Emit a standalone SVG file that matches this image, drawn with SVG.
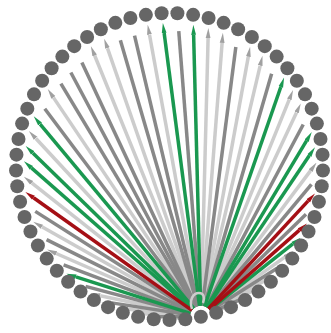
<svg xmlns="http://www.w3.org/2000/svg" width="331" height="333" viewBox="0 0 331 333">
<defs>
<style>
.n{fill:#666666}
.l{stroke-width:3.5;fill:none}
.L{stroke:#cccccc;marker-end:url(#mL)}
.D{stroke:#888888}
.G{stroke:#1a9850;marker-end:url(#mG)}
.R{stroke:#a50f15;marker-end:url(#mR)}
.loop{stroke:#cccccc;stroke-width:2.5;fill:none}
</style>
<marker id="mL" markerUnits="userSpaceOnUse" markerWidth="10" markerHeight="6" refX="0" refY="3" orient="auto"><path d="M0,0.6 L10,3 L0,5.4z" fill="#a0a0a0"/></marker>
<marker id="mG" markerUnits="userSpaceOnUse" markerWidth="10" markerHeight="6" refX="0" refY="3" orient="auto"><path d="M0,0.6 L10,3 L0,5.4z" fill="#1a9850"/></marker>
<marker id="mR" markerUnits="userSpaceOnUse" markerWidth="10" markerHeight="6" refX="0" refY="3" orient="auto"><path d="M0,0.6 L10,3 L0,5.4z" fill="#a50f15"/></marker>
</defs>
<rect width="331" height="333" fill="#ffffff"/>
<g id="connectors">
<g transform="translate(200.9 316.75)">
<line class="l L" x1="11" y1="0" x2="278.79" y2="0" transform="rotate(-88.52)"/>
<line class="l L" x1="11" y1="0" x2="274.76" y2="0" transform="rotate(-85.57)"/>
<line class="l L" x1="11" y1="0" x2="264.38" y2="0" transform="rotate(-79.67)"/>
<line class="l L" x1="11" y1="0" x2="258.06" y2="0" transform="rotate(-76.72)"/>
<line class="l L" x1="11" y1="0" x2="234.69" y2="0" transform="rotate(-67.87)"/>
<line class="l L" x1="11" y1="0" x2="225.58" y2="0" transform="rotate(-64.92)"/>
<line class="l L" x1="11" y1="0" x2="182.73" y2="0" transform="rotate(-53.11)"/>
<line class="l L" x1="11" y1="0" x2="102.95" y2="0" transform="rotate(-35.41)"/>
<line class="l L" x1="11" y1="0" x2="73.36" y2="0" transform="rotate(-29.51)"/>
<line class="l L" x1="11" y1="0" x2="58.18" y2="0" transform="rotate(-26.56)"/>
<line class="l L" x1="11" y1="0" x2="27.24" y2="0" transform="rotate(-20.66)"/>
<line class="l L" x1="10" y1="0" x2="11.57" y2="0" transform="rotate(-17.70)"/>
<line class="l L" x1="10" y1="0" x2="11.57" y2="0" transform="rotate(174.10)"/>
<line class="l L" x1="11" y1="0" x2="27.24" y2="0" transform="rotate(177.05)"/>
<line class="l L" x1="11" y1="0" x2="58.18" y2="0" transform="rotate(182.95)"/>
<line class="l L" x1="11" y1="0" x2="73.36" y2="0" transform="rotate(185.90)"/>
<line class="l L" x1="11" y1="0" x2="102.95" y2="0" transform="rotate(191.80)"/>
<line class="l L" x1="11" y1="0" x2="157.90" y2="0" transform="rotate(203.61)"/>
<line class="l L" x1="11" y1="0" x2="182.73" y2="0" transform="rotate(209.51)"/>
<line class="l L" x1="11" y1="0" x2="215.78" y2="0" transform="rotate(218.36)"/>
<line class="l L" x1="11" y1="0" x2="243.21" y2="0" transform="rotate(227.21)"/>
<line class="l L" x1="11" y1="0" x2="264.38" y2="0" transform="rotate(236.07)"/>
<line class="l L" x1="11" y1="0" x2="282.03" y2="0" transform="rotate(247.87)"/>
<line class="l L" x1="11" y1="0" x2="284.46" y2="0" transform="rotate(250.82)"/>
<line class="l L" x1="11" y1="0" x2="286.90" y2="0" transform="rotate(259.67)"/>
<line class="l D" x1="11" y1="0" x2="286.46" y2="0" transform="rotate(-94.43)"/>
<line class="l D" x1="11" y1="0" x2="271.97" y2="0" transform="rotate(-82.62)"/>
<line class="l D" x1="11" y1="0" x2="253.00" y2="0" transform="rotate(-73.77)"/>
<line class="l D" x1="11" y1="0" x2="217.78" y2="0" transform="rotate(-61.97)"/>
<line class="l D" x1="11" y1="0" x2="172.52" y2="0" transform="rotate(-50.16)"/>
<line class="l D" x1="11" y1="0" x2="146.75" y2="0" transform="rotate(-44.26)"/>
<line class="l D" x1="11" y1="0" x2="90.30" y2="0" transform="rotate(-32.46)"/>
<line class="l D" x1="11" y1="0" x2="44.79" y2="0" transform="rotate(-23.61)"/>
<line class="l D" x1="11" y1="0" x2="44.79" y2="0" transform="rotate(180)"/>
<line class="l D" x1="11" y1="0" x2="90.30" y2="0" transform="rotate(188.85)"/>
<line class="l D" x1="11" y1="0" x2="119.26" y2="0" transform="rotate(194.75)"/>
<line class="l D" x1="11" y1="0" x2="146.75" y2="0" transform="rotate(200.66)"/>
<line class="l D" x1="11" y1="0" x2="172.52" y2="0" transform="rotate(206.56)"/>
<line class="l D" x1="11" y1="0" x2="196.30" y2="0" transform="rotate(212.46)"/>
<line class="l D" x1="11" y1="0" x2="260.06" y2="0" transform="rotate(233.11)"/>
<line class="l D" x1="11" y1="0" x2="271.97" y2="0" transform="rotate(239.02)"/>
<line class="l D" x1="11" y1="0" x2="276.76" y2="0" transform="rotate(241.97)"/>
<line class="l D" x1="11" y1="0" x2="280.79" y2="0" transform="rotate(244.92)"/>
<line class="l D" x1="11" y1="0" x2="288.08" y2="0" transform="rotate(253.77)"/>
<line class="l D" x1="11" y1="0" x2="288.90" y2="0" transform="rotate(256.72)"/>
<line class="l G" x1="11" y1="0" x2="286.08" y2="0" transform="rotate(-97.38)"/>
<line class="l G" x1="11" y1="0" x2="282.03" y2="0" transform="rotate(-91.48)"/>
<line class="l G" x1="11" y1="0" x2="243.21" y2="0" transform="rotate(-70.82)"/>
<line class="l G" x1="11" y1="0" x2="205.35" y2="0" transform="rotate(-59.02)"/>
<line class="l G" x1="11" y1="0" x2="194.30" y2="0" transform="rotate(-56.07)"/>
<line class="l G" x1="11" y1="0" x2="117.26" y2="0" transform="rotate(-38.36)"/>
<line class="l G" x1="11" y1="0" x2="131.19" y2="0" transform="rotate(197.70)"/>
<line class="l G" x1="11" y1="0" x2="225.58" y2="0" transform="rotate(221.31)"/>
<line class="l G" x1="11" y1="0" x2="234.69" y2="0" transform="rotate(224.26)"/>
<line class="l G" x1="11" y1="0" x2="251.00" y2="0" transform="rotate(230.16)"/>
<line class="l R" x1="11" y1="0" x2="157.90" y2="0" transform="rotate(-47.21)"/>
<line class="l R" x1="11" y1="0" x2="131.19" y2="0" transform="rotate(-41.31)"/>
<line class="l R" x1="11" y1="0" x2="205.35" y2="0" transform="rotate(215.41)"/>
</g>
<path class="loop" d="M192,309 C189,300 193,293 199,293 C204,293 205,298 203,303"/>
</g>
<g id="nodes">
<g id="node-0"><circle class="n" cx="161.60" cy="13.20" r="7"/></g>
<g id="node-1"><circle class="n" cx="177.40" cy="13.20" r="7"/></g>
<g id="node-2"><circle class="n" cx="193.12" cy="14.83" r="7"/></g>
<g id="node-3"><circle class="n" cx="208.59" cy="18.06" r="7"/></g>
<g id="node-4"><circle class="n" cx="223.65" cy="22.87" r="7"/></g>
<g id="node-5"><circle class="n" cx="238.13" cy="29.20" r="7"/></g>
<g id="node-6"><circle class="n" cx="251.88" cy="36.98" r="7"/></g>
<g id="node-7"><circle class="n" cx="264.76" cy="46.14" r="7"/></g>
<g id="node-8"><circle class="n" cx="276.65" cy="56.58" r="7"/></g>
<g id="node-9"><circle class="n" cx="287.39" cy="68.19" r="7"/></g>
<g id="node-10"><circle class="n" cx="296.85" cy="80.80" r="7"/></g>
<g id="node-11"><circle class="n" cx="305.00" cy="94.36" r="7"/></g>
<g id="node-12"><circle class="n" cx="311.69" cy="108.67" r="7"/></g>
<g id="node-13"><circle class="n" cx="316.88" cy="123.60" r="7"/></g>
<g id="node-14"><circle class="n" cx="320.51" cy="138.98" r="7"/></g>
<g id="node-15"><circle class="n" cx="322.54" cy="154.65" r="7"/></g>
<g id="node-16"><circle class="n" cx="322.95" cy="170.45" r="7"/></g>
<g id="node-17"><circle class="n" cx="321.73" cy="186.21" r="7"/></g>
<g id="node-18"><circle class="n" cx="318.90" cy="201.76" r="7"/></g>
<g id="node-19"><circle class="n" cx="314.48" cy="216.93" r="7"/></g>
<g id="node-20"><circle class="n" cx="308.53" cy="231.57" r="7"/></g>
<g id="node-21"><circle class="n" cx="301.11" cy="245.50" r="7"/></g>
<g id="node-22"><circle class="n" cx="292.29" cy="258.61" r="7"/></g>
<g id="node-23"><circle class="n" cx="282.17" cy="270.74" r="7"/></g>
<g id="node-24"><circle class="n" cx="270.87" cy="281.77" r="7"/></g>
<g id="node-25"><circle class="n" cx="258.45" cy="291.60" r="7"/></g>
<g id="node-26"><circle class="n" cx="245.09" cy="300.10" r="7"/></g>
<g id="node-27"><circle class="n" cx="230.97" cy="307.15" r="7"/></g>
<g id="node-28"><circle class="n" cx="216.18" cy="312.73" r="7"/></g>
<g id="node-29"><circle class="n" cx="200.90" cy="316.75" r="7"/></g>
<g id="node-30"><circle class="n" cx="185.28" cy="319.19" r="7"/></g>
<g id="node-31"><circle class="n" cx="169.50" cy="320.00" r="7"/></g>
<g id="node-32"><circle class="n" cx="153.72" cy="319.19" r="7"/></g>
<g id="node-33"><circle class="n" cx="138.10" cy="316.75" r="7"/></g>
<g id="node-34"><circle class="n" cx="122.82" cy="312.73" r="7"/></g>
<g id="node-35"><circle class="n" cx="108.03" cy="307.15" r="7"/></g>
<g id="node-36"><circle class="n" cx="93.91" cy="300.10" r="7"/></g>
<g id="node-37"><circle class="n" cx="80.55" cy="291.60" r="7"/></g>
<g id="node-38"><circle class="n" cx="68.13" cy="281.77" r="7"/></g>
<g id="node-39"><circle class="n" cx="56.83" cy="270.74" r="7"/></g>
<g id="node-40"><circle class="n" cx="46.71" cy="258.61" r="7"/></g>
<g id="node-41"><circle class="n" cx="37.89" cy="245.50" r="7"/></g>
<g id="node-42"><circle class="n" cx="30.47" cy="231.57" r="7"/></g>
<g id="node-43"><circle class="n" cx="24.52" cy="216.93" r="7"/></g>
<g id="node-44"><circle class="n" cx="20.10" cy="201.76" r="7"/></g>
<g id="node-45"><circle class="n" cx="17.27" cy="186.21" r="7"/></g>
<g id="node-46"><circle class="n" cx="16.05" cy="170.45" r="7"/></g>
<g id="node-47"><circle class="n" cx="16.46" cy="154.65" r="7"/></g>
<g id="node-48"><circle class="n" cx="18.49" cy="138.98" r="7"/></g>
<g id="node-49"><circle class="n" cx="22.12" cy="123.60" r="7"/></g>
<g id="node-50"><circle class="n" cx="27.31" cy="108.67" r="7"/></g>
<g id="node-51"><circle class="n" cx="34.00" cy="94.36" r="7"/></g>
<g id="node-52"><circle class="n" cx="42.15" cy="80.80" r="7"/></g>
<g id="node-53"><circle class="n" cx="51.61" cy="68.19" r="7"/></g>
<g id="node-54"><circle class="n" cx="62.35" cy="56.58" r="7"/></g>
<g id="node-55"><circle class="n" cx="74.24" cy="46.14" r="7"/></g>
<g id="node-56"><circle class="n" cx="87.12" cy="36.98" r="7"/></g>
<g id="node-57"><circle class="n" cx="100.87" cy="29.20" r="7"/></g>
<g id="node-58"><circle class="n" cx="115.35" cy="22.87" r="7"/></g>
<g id="node-59"><circle class="n" cx="130.41" cy="18.06" r="7"/></g>
<g id="node-60"><circle class="n" cx="145.88" cy="14.83" r="7"/></g>
</g>
</svg>
